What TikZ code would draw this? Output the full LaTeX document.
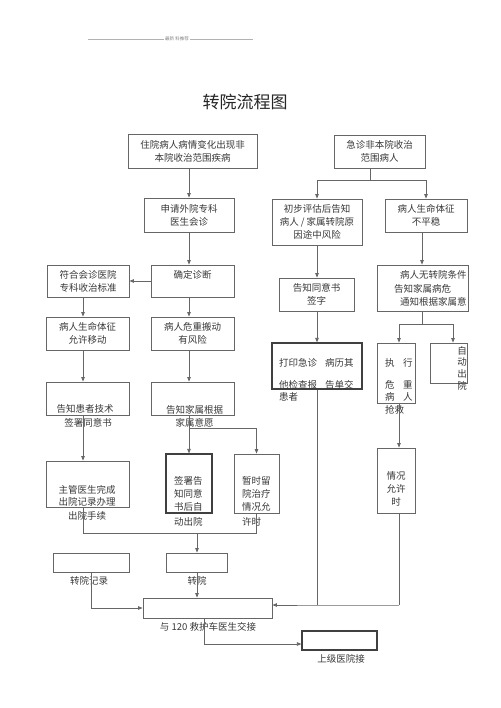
\documentclass[tikz,border=0pt]{standalone}
\usepackage{fontspec}
\setmainfont{Noto Sans CJK SC}
\usetikzlibrary{arrows.meta,calc}
\definecolor{linegray}{gray}{0.4}
\definecolor{darkline}{gray}{0.25}
\definecolor{textgray}{gray}{0.22}
\begin{document}
\begin{tikzpicture}[x=1pt,y=-1pt,
  box/.style={draw=linegray, line width=0.8pt, inner sep=0pt, text=textgray, font=\fontsize{9.5}{13}\selectfont, align=center},
  tbox/.style={box, draw=darkline, line width=1.15pt},
  ln/.style={draw=linegray, line width=0.8pt},
  arr/.style={ln, -{Triangle[length=4.5pt,width=3.5pt]}},
  txt/.style={inner sep=0pt, text=textgray, font=\fontsize{9.5}{13}\selectfont, align=left},
  ctxt/.style={txt, align=center}]
\useasboundingbox (0,0) rectangle (500,708);
% header
\draw[draw=gray!60, line width=0.5pt] (88,39) -- (253,39);
\node[fill=white, inner sep=1pt, text=gray, font=\fontsize{4.5}{5}\selectfont] (hdr) at (177,39) {最新 料推荐};
\node[inner sep=0pt, text=black!85, font=\fontsize{17}{20}\selectfont] (title) at (245,102) {转院流程图};
% boxes
\node[box, minimum width=129pt, minimum height=34pt] (b1) at (192.5,151) {住院病人病情变化出现非\\本院收治范围疾病};
\node[box, minimum width=91pt, minimum height=33pt] (b2) at (379.5,151.5) {急诊非本院收治\\范围病人};
\node[box, minimum width=90pt, minimum height=46pt] (b3) at (317,222) {初步评估后告知\\病人 / 家属转院原\\因途中风险};
\node[box, minimum width=82pt, minimum height=33pt] (b4) at (426,215.5) {病人生命体征\\不平稳};
\node[box, minimum width=90pt, minimum height=34pt] (b5) at (189,215) {申请外院专科\\医生会诊};
\node[box, minimum width=83pt, minimum height=32pt] (b6) at (192.5,281) {};
\node[ctxt] (t6) at (192.5,275) {确定诊断};
\node[box, minimum width=82pt, minimum height=32pt] (b7) at (88,281) {符合会诊医院\\专科收治标准};
\node[box, minimum width=83pt, minimum height=33pt] (b8) at (87.5,333.5) {病人生命体征\\允许移动};
\node[box, minimum width=83pt, minimum height=33pt] (b9) at (192.5,333.5) {病人危重搬动\\有风险};
\node[box, minimum width=83pt, minimum height=33pt] (b10) at (87.5,398.5) {};
\node[ctxt] (t10a) at (85,409) {告知患者技术};
\node[ctxt] (t10b) at (88,423) {签署同意书};
\node[box, minimum width=83pt, minimum height=33pt] (b11) at (192.5,398.5) {};
\node[ctxt] (t11a) at (194.5,410) {告知家属根据};
\node[ctxt] (t11b) at (194.5,423) {家属意愿};
\node[box, minimum width=83pt, minimum height=46pt] (b12) at (87.5,484) {};
\node[ctxt] (t12a) at (87,490) {主管医生完成};
\node[ctxt] (t12b) at (87,502) {出院记录办理};
\node[ctxt] (t12c) at (87,516) {出院手续};
\node[tbox, minimum width=46pt, minimum height=59pt] (b13) at (189,483.5) {};
\node[txt, anchor=west] (t13a) at (174,481) {签署告};
\node[txt, anchor=west] (t13b) at (174,494) {知同意};
\node[txt, anchor=west] (t13c) at (174,507) {书后自};
\node[txt, anchor=west] (t13d) at (174,522) {动出院};
\node[box, minimum width=45pt, minimum height=59pt] (b14) at (256.5,483.5) {};
\node[txt, anchor=west] (t14a) at (242,481) {暂时留};
\node[txt, anchor=west] (t14b) at (242,494) {院治疗};
\node[txt, anchor=west] (t14c) at (242,507) {情况允};
\node[txt, anchor=west] (t14d) at (242,522) {许时};
\node[box, minimum width=76pt, minimum height=19pt] (b15) at (91,562.5) {};
\node[ctxt] (t15) at (89,581) {转院记录};
\node[box, minimum width=61pt, minimum height=19pt] (b16) at (196.5,562.5) {};
\node[ctxt] (t16) at (197,581) {转院};
\node[box, minimum width=129pt, minimum height=20pt] (b17) at (207.5,608) {};
\node[ctxt] (t17) at (208,627) {与 120 救护车医生交接};
\node[tbox, minimum width=75pt, minimum height=19pt] (b18) at (339.5,640.5) {};
\node[ctxt] (t18) at (341,659) {上级医院接};
\node[box, minimum width=75pt, minimum height=33pt] (b19) at (316.5,294.5) {告知同意书\\签字};
\node[tbox, minimum width=90pt, minimum height=46pt] (b20) at (317,366) {};
\node[txt, anchor=west] (t20a) at (279,363) {打印急诊};
\node[txt, anchor=west] (t20b) at (325,363) {病历其};
\node[txt, anchor=west] (t20c) at (279,385) {他检查报};
\node[txt, anchor=west] (t20d) at (325,385) {告单交};
\node[txt, anchor=west] (t20e) at (279,397) {患者};
\node[box, minimum width=91pt, minimum height=46pt] (b21) at (422.5,288) {};
\node[txt, anchor=west] (t21a) at (400,275) {病人无转院条件};
\node[txt, anchor=west] (t21b) at (394,289) {告知家属病危};
\node[txt, anchor=west] (t21c) at (400,302) {通知根据家属意};
\node[box, minimum width=38pt, minimum height=60pt] (b22) at (396,373) {};
\node[txt, anchor=west] (t22a) at (385,363) {执};
\node[txt, anchor=west] (t22b) at (403,363) {行};
\node[txt, anchor=west] (t22c) at (385,385) {危};
\node[txt, anchor=west] (t22d) at (403,385) {重};
\node[txt, anchor=west] (t22e) at (385,397) {病};
\node[txt, anchor=west] (t22f) at (403,397) {人};
\node[txt, anchor=west] (t22g) at (385,410) {抢救};
\node[box, minimum width=37pt, minimum height=40pt] (b23) at (448.5,363) {};
\node[ctxt, font=\fontsize{9.5}{11.7}\selectfont] (t23) at (462,368) {自\\动\\出\\院};
\node[box, minimum width=38pt, minimum height=65pt] (b24) at (396,480.5) {};
\node[ctxt] (t24) at (396,489) {情况\\允许\\时};
% helper coordinates
\coordinate (cL) at (83,0);
\coordinate (cM) at (189,0);
\coordinate (cR) at (422,0);
\coordinate (cE) at (399,0);
\coordinate (cA) at (453,0);
\coordinate (j2) at (370,180);
\coordinate (j11) at (189,428);
\coordinate (j12) at (83,533);
\coordinate (j13) at (197,533);
\coordinate (j15) at (91,608);
\coordinate (j17) at (204,644);
\coordinate (j20) at (317,605);
\coordinate (j21) at (422,324);
\coordinate (j24) at (399,605);
% connectors left
\draw[arr] (b1.south -| b5.north) -- (b5.north);
\draw[arr] (b5.south) -- (b5.south |- b6.north);
\draw[arr] (b6.west) -- (b7.east);
\draw[arr] (b7.south -| cL) -- (b8.north -| cL);
\draw[arr] (b8.south -| cL) -- (b10.north -| cL);
\draw[arr] (b10.south -| cL) -- (b12.north -| cL);
\draw[arr] (b6.south -| cM) -- (b9.north -| cM);
\draw[arr] (b9.south -| cM) -- (b11.north -| cM);
\draw[arr] (b11.south -| cM) -- (b13.north -| cM);
\draw[arr] (j11) -| (b14.north);
\draw[ln] (b12.south -| j12) -- (j12) -| (b14.south);
\draw[arr] (j13) -- (j13 |- b16.north);
\draw[arr] (b16.south -| j13) -- (b17.north -| j13);
\draw[arr] (b15.south -| j15) -- (j15) -- (b17.west);
\draw[arr] (b17.south -| j17) -- (j17) -- (b18.west |- j17);
% connectors right
\draw[ln] (j2 |- b2.south) -- (j2);
\draw[arr] (j2) -| (b3.north);
\draw[arr] (j2) -| (b4.north);
\draw[arr] (b3.south) -- (b3.south |- b19.north);
\draw[arr] (b19.south -| b20.north) -- (b20.north);
\draw[ln] (b20.south) -- (j20);
\draw[arr] (b4.south -| cR) -- (b21.north -| cR);
\draw[ln] (b21.south -| cR) -- (j21);
\draw[arr] (j21) -| (b22.north -| cE);
\draw[arr] (j21) -| (b23.north -| cA);
\draw[arr] (b22.south -| cE) -- (b24.north -| cE);
\draw[ln] (b24.south -| cE) -- (j24);
\draw[arr] (j24) -- (j20) -- (b17.east |- j20);
\end{tikzpicture}
\end{document}
